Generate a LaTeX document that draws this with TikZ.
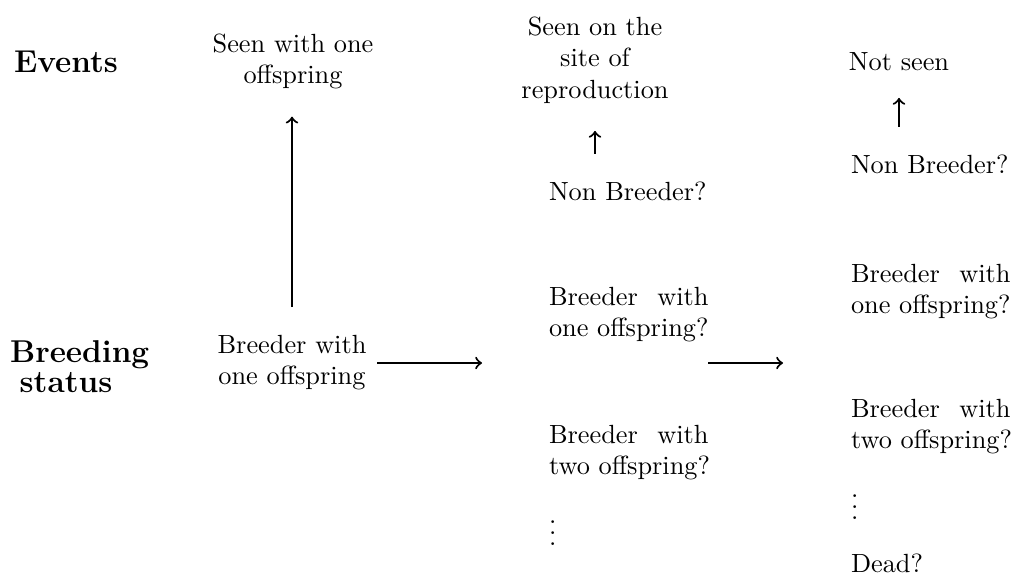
\documentclass[tikz,border=0pt]{standalone}
\newcommand\jline[1]{\makebox[60.64pt][s]{#1}}
\newcommand\tightbs{\baselineskip=11.4pt\relax}
\begin{document}
\begin{tikzpicture}[x=0.3802pt,y=-0.3802pt,
  every node/.style={inner sep=0pt, outer sep=0pt},
  lbl/.style={font=\large\bfseries},
  evt/.style={align=center, anchor=north},
  sts/.style={align=left, anchor=north west},
  one/.style={anchor=base west},
  arr/.style={->, thick},
  varr/.style={arr, shorten >=10.5pt, shorten <=10.5pt}]
\useasboundingbox (0,0) rectangle (1017,579);
% row labels
\node[lbl, anchor=base west] (lev) at (14,72) {Events};
\node[lbl, align=left, anchor=north west] (lbs) at (10,341) {Breeding\\[-2.6pt]\hspace*{3.7pt}status};
% column 2
\node[evt] (e2) at (293,33.5) {Seen with one\\offspring};
\node[evt] (s2) at (292,334.75) {Breeder with\\one offspring};
% column 3
\node[evt] (e3) at (595,16.5) {Seen on the\\site of\\reproduction};
\node[one] (nb3) at (549,200) {Non Breeder?};
\node[sts] (b31) at (549,286.75) {\jline{Breeder with}\\one offspring?};
\node[sts] (b32) at (549,424.75) {\jline{Breeder with}\\two offspring?};
\node[one] (d3) at (549,545) {\vdots};
% column 4
\node[anchor=base] (e4) at (899,70) {Not seen};
\node[one] (nb4) at (851,173) {Non Breeder?};
\node[sts] (b41) at (851,263.75) {\jline{Breeder with}\\one offspring?};
\node[sts] (b42) at (851,398.75) {\jline{Breeder with}\\two offspring?};
\node[one] (d4) at (851,519) {\vdots};
\node[one] (dead) at (851,572) {Dead?};
% connectors
\coordinate (h1a) at (377,363);
\coordinate (h1b) at (482,363);
\coordinate (h2a) at (708,363);
\coordinate (h2b) at (783,363);
\draw[varr] (s2.north) -- (s2.north |- e2.south);
\draw[varr] (e3.south |- nb3.north) -- (e3.south);
\draw[varr] (e4.south |- nb4.north) -- (e4.south);
\draw[arr] (h1a) -- (h1b);
\draw[arr] (h2a) -- (h2b);
\end{tikzpicture}
\end{document}
